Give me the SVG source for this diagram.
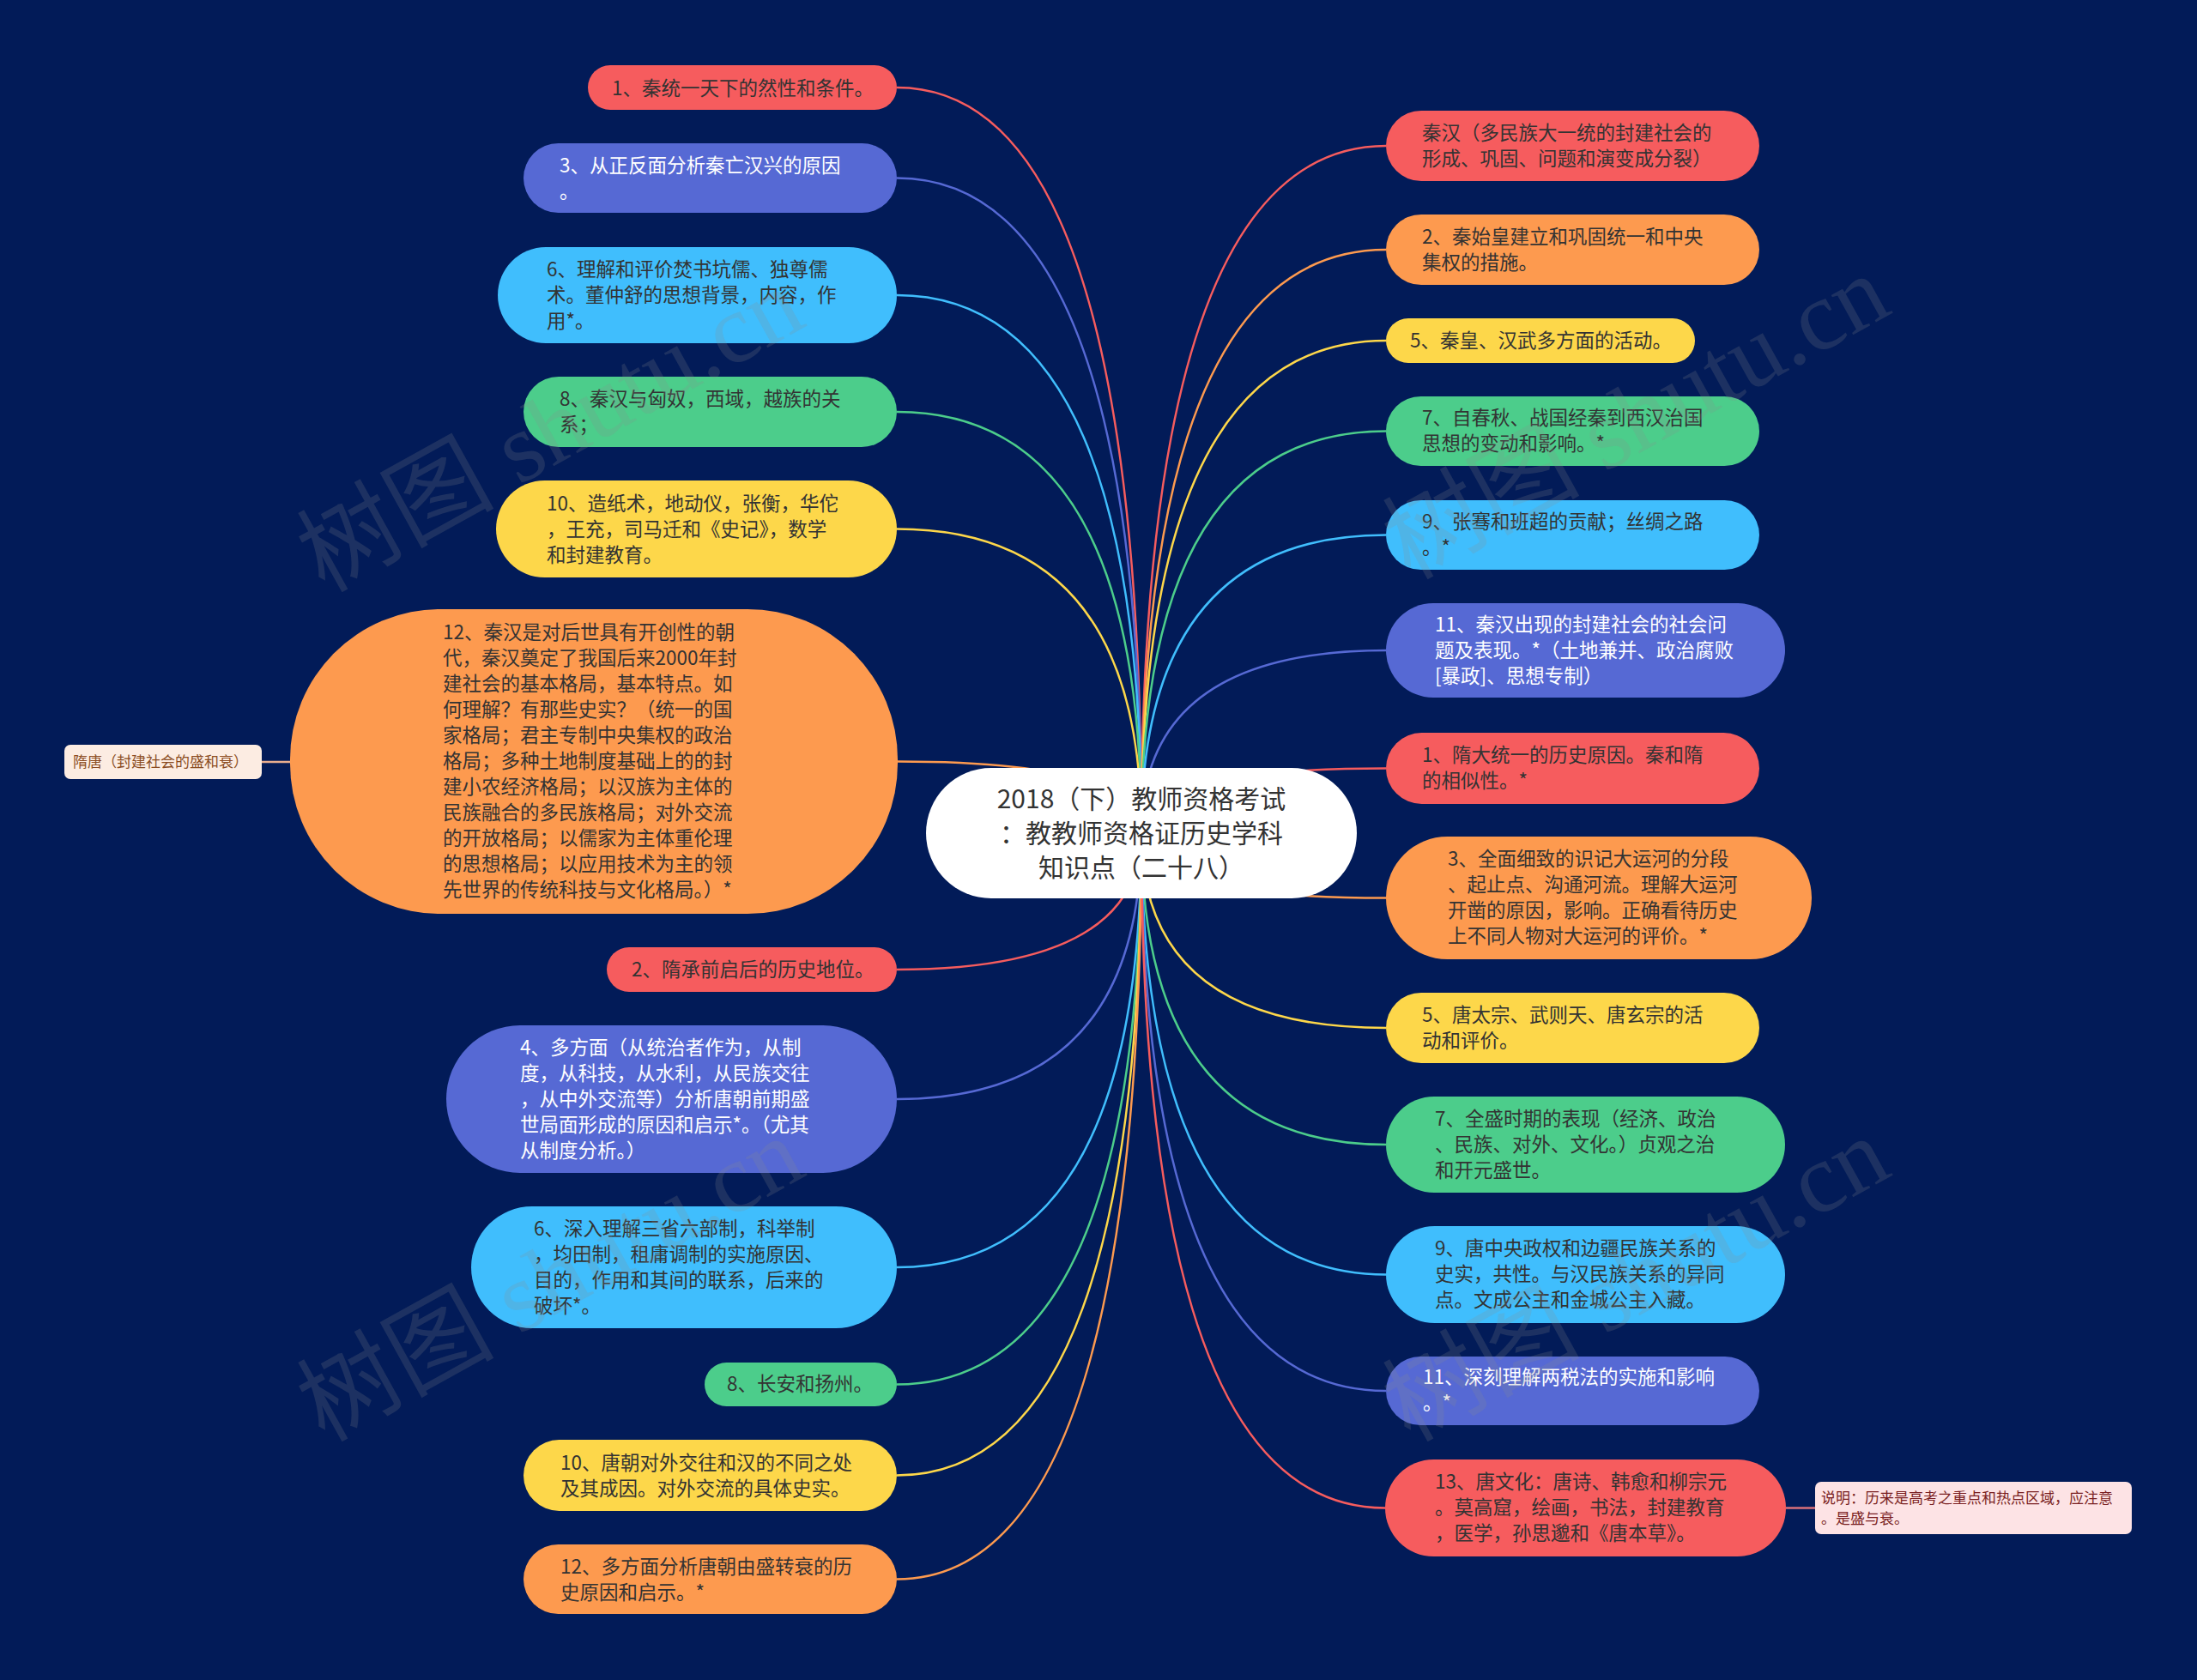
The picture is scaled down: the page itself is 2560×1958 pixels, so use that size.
<svg xmlns="http://www.w3.org/2000/svg" width="2560" height="1958" viewBox="0 0 2560 1958">
<style>
.t{font-family:"Noto Sans CJK SC","Noto Sans",sans-serif;font-size:22.5px;fill:#333333}
.w{fill:#ffffff}
.c{fill:none;stroke-width:2.5}
.red{fill:#f65c5e}.org{fill:#fd9a4f}.yel{fill:#fdd74a}.grn{fill:#4ccd8b}.lbl{fill:#40befd}.blu{fill:#5669d4}
.sred{stroke:#f65c5e}.sorg{stroke:#fd9a4f}.syel{stroke:#fdd74a}.sgrn{stroke:#4ccd8b}.slbl{stroke:#40befd}.sblu{stroke:#5669d4}
.wm{font-family:"Liberation Serif","Noto Sans CJK SC",serif;font-size:115px;fill:#8a8a8a;fill-opacity:0.2}
</style>
<rect x="0" y="0" width="2560" height="1958" fill="#021b58"/>
<g id="connectors">
<path class="c sred" d="M1330 970 Q1330 102 1045 102"/>
<path class="c sblu" d="M1330 970 Q1330 207.5 1045 207.5"/>
<path class="c slbl" d="M1330 970 Q1330 344 1045 344"/>
<path class="c sgrn" d="M1330 970 Q1330 480 1045 480"/>
<path class="c syel" d="M1330 970 Q1330 616.5 1045 616.5"/>
<path class="c sorg" d="M1330 970 Q1330 887.5 1046 887.5"/>
<path class="c sred" d="M1330 970 Q1330 1130 1045 1130"/>
<path class="c sblu" d="M1330 970 Q1330 1281 1045 1281"/>
<path class="c slbl" d="M1330 970 Q1330 1477 1045 1477"/>
<path class="c sgrn" d="M1330 970 Q1330 1613.5 1045 1613.5"/>
<path class="c syel" d="M1330 970 Q1330 1719.5 1045 1719.5"/>
<path class="c sorg" d="M1330 970 Q1330 1840.5 1045 1840.5"/>
<path class="c sred" d="M1330 970 Q1330 170 1615 170"/>
<path class="c sorg" d="M1330 970 Q1330 291 1615 291"/>
<path class="c syel" d="M1330 970 Q1330 397 1615 397"/>
<path class="c sgrn" d="M1330 970 Q1330 502.5 1615 502.5"/>
<path class="c slbl" d="M1330 970 Q1330 623.5 1615 623.5"/>
<path class="c sblu" d="M1330 970 Q1330 758 1615 758"/>
<path class="c sred" d="M1330 970 Q1330 895.5 1615 895.5"/>
<path class="c sorg" d="M1330 970 Q1330 1046.5 1615 1046.5"/>
<path class="c syel" d="M1330 970 Q1330 1198 1615 1198"/>
<path class="c sgrn" d="M1330 970 Q1330 1334 1615 1334"/>
<path class="c slbl" d="M1330 970 Q1330 1485.5 1615 1485.5"/>
<path class="c sblu" d="M1330 970 Q1330 1621 1615 1621"/>
<path class="c sred" d="M1330 970 Q1330 1757.5 1614 1757.5"/>
<path class="c" stroke="#e8ad8e" d="M305 888 L338 888"/>
<path class="c" stroke="#d9707a" d="M2081 1757.5 L2115 1757.5"/>
</g>
<g id="center">
<rect x="1079" y="895" width="502" height="152" rx="76" fill="#ffffff"/>
<text class="t" style="font-size:30px" text-anchor="middle"><tspan x="1330" y="942">2018（下）教师资格考试</tspan><tspan x="1330" y="982">：教教师资格证历史学科</tspan><tspan x="1330" y="1022">知识点（二十八）</tspan></text>
</g>
<g id="L1"><rect class="red" x="685" y="76" width="360" height="52" rx="26"/><text class="t"><tspan x="713" y="111">1、秦统一天下的然性和条件。</tspan></text></g>
<g id="L2"><rect class="blu" x="610" y="167" width="435" height="81" rx="40.5"/><text class="t w"><tspan x="652" y="201">3、从正反面分析秦亡汉兴的原因</tspan><tspan x="652" y="231">。</tspan></text></g>
<g id="L3"><rect class="lbl" x="580" y="288" width="465" height="112" rx="56"/><text class="t"><tspan x="637" y="322">6、理解和评价焚书坑儒、独尊儒</tspan><tspan x="637" y="352">术。董仲舒的思想背景，内容，作</tspan><tspan x="637" y="382">用*。</tspan></text></g>
<g id="L4"><rect class="grn" x="610" y="439" width="435" height="82" rx="41"/><text class="t"><tspan x="652" y="473">8、秦汉与匈奴，西域，越族的关</tspan><tspan x="652" y="503">系；</tspan></text></g>
<g id="L5"><rect class="yel" x="578" y="560" width="467" height="113" rx="56.5"/><text class="t"><tspan x="637" y="595">10、造纸术，地动仪，张衡，华佗</tspan><tspan x="637" y="625">，王充，司马迁和《史记》，数学</tspan><tspan x="637" y="655">和封建教育。</tspan></text></g>
<g id="L6"><rect class="org" x="338" y="710" width="708" height="355" rx="175"/><text class="t"><tspan x="516" y="745">12、秦汉是对后世具有开创性的朝</tspan><tspan x="516" y="775">代，秦汉奠定了我国后来2000年封</tspan><tspan x="516" y="805">建社会的基本格局，基本特点。如</tspan><tspan x="516" y="835">何理解？有那些史实？（统一的国</tspan><tspan x="516" y="865">家格局；君主专制中央集权的政治</tspan><tspan x="516" y="895">格局；多种土地制度基础上的的封</tspan><tspan x="516" y="925">建小农经济格局；以汉族为主体的</tspan><tspan x="516" y="955">民族融合的多民族格局；对外交流</tspan><tspan x="516" y="985">的开放格局；以儒家为主体重伦理</tspan><tspan x="516" y="1015">的思想格局；以应用技术为主的领</tspan><tspan x="516" y="1045">先世界的传统科技与文化格局。）*</tspan></text></g>
<g id="SuiTang"><rect x="75" y="868" width="230" height="40" rx="7" fill="#fcece2"/><text class="t" style="font-size:17px;fill:#8b4c22"><tspan x="85" y="894">隋唐（封建社会的盛和衰）</tspan></text></g>
<g id="L7"><rect class="red" x="707" y="1104" width="338" height="52" rx="26"/><text class="t"><tspan x="736" y="1138">2、隋承前启后的历史地位。</tspan></text></g>
<g id="L8"><rect class="blu" x="520" y="1195" width="525" height="172" rx="86"/><text class="t w"><tspan x="606" y="1229">4、多方面（从统治者作为，从制</tspan><tspan x="606" y="1259">度，从科技，从水利，从民族交往</tspan><tspan x="606" y="1289">，从中外交流等）分析唐朝前期盛</tspan><tspan x="606" y="1319">世局面形成的原因和启示*。（尤其</tspan><tspan x="606" y="1349">从制度分析。）</tspan></text></g>
<g id="L9"><rect class="lbl" x="549" y="1406" width="496" height="142" rx="71"/><text class="t"><tspan x="622" y="1440">6、深入理解三省六部制，科举制</tspan><tspan x="622" y="1470">，均田制，租庸调制的实施原因、</tspan><tspan x="622" y="1500">目的，作用和其间的联系，后来的</tspan><tspan x="622" y="1530">破坏*。</tspan></text></g>
<g id="L10"><rect class="grn" x="821" y="1588" width="224" height="51" rx="25.5"/><text class="t"><tspan x="847" y="1621">8、长安和扬州。</tspan></text></g>
<g id="L11"><rect class="yel" x="610" y="1678" width="435" height="83" rx="41.5"/><text class="t"><tspan x="653" y="1713">10、唐朝对外交往和汉的不同之处</tspan><tspan x="653" y="1743">及其成因。对外交流的具体史实。</tspan></text></g>
<g id="L12"><rect class="org" x="610" y="1800" width="435" height="81" rx="40.5"/><text class="t"><tspan x="653" y="1834">12、多方面分析唐朝由盛转衰的历</tspan><tspan x="653" y="1864">史原因和启示。*</tspan></text></g>
<g id="R1"><rect class="red" x="1615" y="129" width="435" height="82" rx="41"/><text class="t"><tspan x="1657" y="163">秦汉（多民族大一统的封建社会的</tspan><tspan x="1657" y="193">形成、巩固、问题和演变成分裂）</tspan></text></g>
<g id="R2"><rect class="org" x="1615" y="250" width="435" height="82" rx="41"/><text class="t"><tspan x="1657" y="284">2、秦始皇建立和巩固统一和中央</tspan><tspan x="1657" y="314">集权的措施。</tspan></text></g>
<g id="R3"><rect class="yel" x="1615" y="371" width="360" height="52" rx="26"/><text class="t"><tspan x="1643" y="405">5、秦皇、汉武多方面的活动。</tspan></text></g>
<g id="R4"><rect class="grn" x="1615" y="462" width="435" height="81" rx="40.5"/><text class="t"><tspan x="1657" y="495">7、自春秋、战国经秦到西汉治国</tspan><tspan x="1657" y="525">思想的变动和影响。*</tspan></text></g>
<g id="R5"><rect class="lbl" x="1615" y="583" width="435" height="81" rx="40.5"/><text class="t"><tspan x="1657" y="616">9、张骞和班超的贡献；丝绸之路</tspan><tspan x="1657" y="646">。*</tspan></text></g>
<g id="R6"><rect class="blu" x="1615" y="703" width="465" height="110" rx="55"/><text class="t w"><tspan x="1672" y="736">11、秦汉出现的封建社会的社会问</tspan><tspan x="1672" y="766">题及表现。*（土地兼并、政治腐败</tspan><tspan x="1672" y="796">[暴政]、思想专制）</tspan></text></g>
<g id="R7"><rect class="red" x="1615" y="854" width="435" height="83" rx="41.5"/><text class="t"><tspan x="1657" y="888">1、隋大统一的历史原因。秦和隋</tspan><tspan x="1657" y="918">的相似性。*</tspan></text></g>
<g id="R8"><rect class="org" x="1615" y="975" width="496" height="143" rx="71.5"/><text class="t"><tspan x="1687" y="1009">3、全面细致的识记大运河的分段</tspan><tspan x="1687" y="1039">、起止点、沟通河流。理解大运河</tspan><tspan x="1687" y="1069">开凿的原因，影响。正确看待历史</tspan><tspan x="1687" y="1099">上不同人物对大运河的评价。*</tspan></text></g>
<g id="R9"><rect class="yel" x="1615" y="1157" width="435" height="82" rx="41"/><text class="t"><tspan x="1657" y="1191">5、唐太宗、武则天、唐玄宗的活</tspan><tspan x="1657" y="1221">动和评价。</tspan></text></g>
<g id="R10"><rect class="grn" x="1615" y="1278" width="465" height="112" rx="56"/><text class="t"><tspan x="1672" y="1312">7、全盛时期的表现（经济、政治</tspan><tspan x="1672" y="1342">、民族、对外、文化。）贞观之治</tspan><tspan x="1672" y="1372">和开元盛世。</tspan></text></g>
<g id="R11"><rect class="lbl" x="1615" y="1429" width="465" height="113" rx="56.5"/><text class="t"><tspan x="1672" y="1463">9、唐中央政权和边疆民族关系的</tspan><tspan x="1672" y="1493">史实，共性。与汉民族关系的异同</tspan><tspan x="1672" y="1523">点。文成公主和金城公主入藏。</tspan></text></g>
<g id="R12"><rect class="blu" x="1615" y="1581" width="435" height="80" rx="40"/><text class="t w"><tspan x="1658" y="1613">11、深刻理解两税法的实施和影响</tspan><tspan x="1658" y="1643">。*</tspan></text></g>
<g id="R13"><rect class="red" x="1614" y="1701" width="467" height="113" rx="56.5"/><text class="t"><tspan x="1672" y="1735">13、唐文化：唐诗、韩愈和柳宗元</tspan><tspan x="1672" y="1765">。莫高窟，绘画，书法，封建教育</tspan><tspan x="1672" y="1795">，医学，孙思邈和《唐本草》。</tspan></text></g>
<g id="Note"><rect x="2115" y="1727" width="369" height="61" rx="7" fill="#fde3e5"/><text class="t" style="font-size:17px;fill:#7a1f22"><tspan x="2122" y="1752">说明：历来是高考之重点和热点区域，应注意</tspan><tspan x="2122" y="1776">。是盛与衰。</tspan></text></g>
<g id="watermarks">
<text class="wm" text-anchor="middle" transform="translate(660 535) rotate(-29)">树图 shutu.cn</text>
<text class="wm" text-anchor="middle" transform="translate(1925 520) rotate(-29)">树图 shutu.cn</text>
<text class="wm" text-anchor="middle" transform="translate(660 1525) rotate(-29)">树图 shutu.cn</text>
<text class="wm" text-anchor="middle" transform="translate(1925 1525) rotate(-29)">树图 shutu.cn</text>
</g>
</svg>
